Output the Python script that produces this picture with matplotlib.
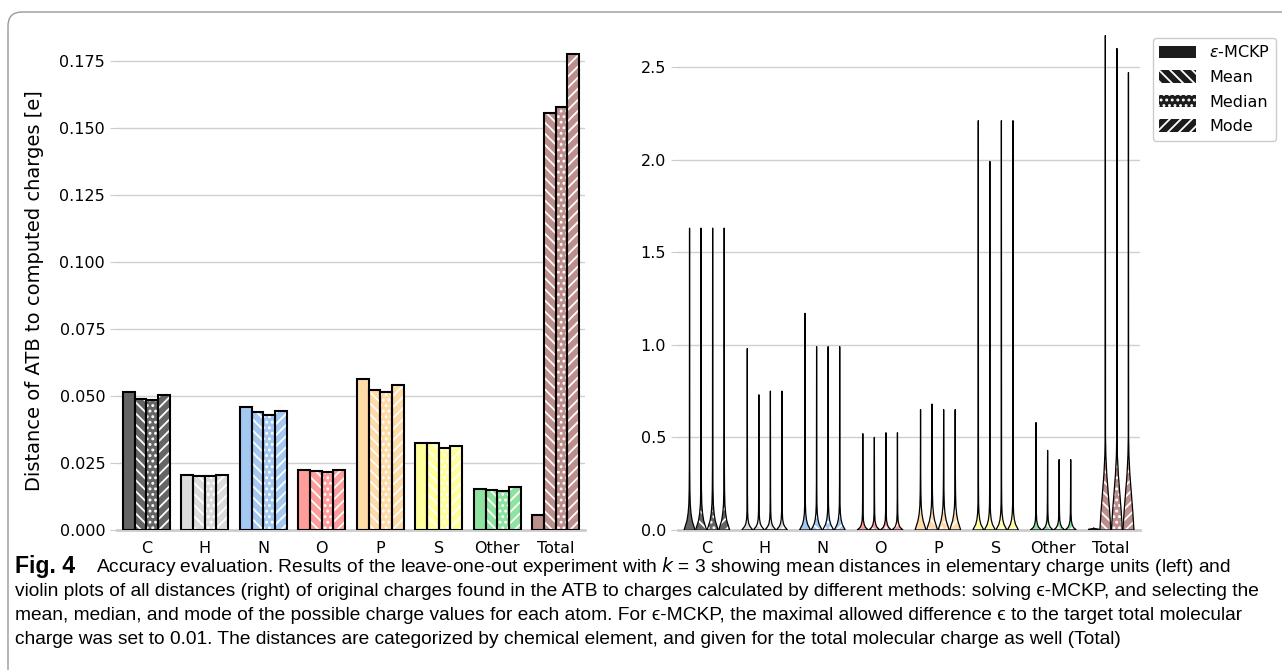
import matplotlib
matplotlib.use('Agg')
from matplotlib import pyplot as plt
from matplotlib.patches import Patch, FancyBboxPatch
from matplotlib.transforms import IdentityTransform

categories = ['C', 'H', 'N', 'O', 'P', 'S', 'Other', 'Total']
methods = [r'$\varepsilon$-MCKP', 'Mean', 'Median', 'Mode']
hatches = [None, '\\\\\\', '...', '///']
colors = ['#656565', '#dcdcdc', '#a3c8f2', '#ff9d9a', '#ffdba8', '#ffff9c', '#8fe3a0', '#bc8f8c']

# mean distances (left)
mean_eps = [0.0514, 0.0205, 0.0458, 0.0225, 0.0565, 0.0323, 0.0153, 0.0055]
mean_mean = [0.0489, 0.0203, 0.0439, 0.0222, 0.0521, 0.0325, 0.0149, 0.1557]
mean_median = [0.0485, 0.0200, 0.0428, 0.0218, 0.0516, 0.0306, 0.0146, 0.1580]
mean_mode = [0.0504, 0.0205, 0.0443, 0.0225, 0.0542, 0.0315, 0.0159, 0.1776]
means = [mean_eps, mean_mean, mean_median, mean_mode]

# violin tops = max distance (right)
max_eps = [1.63, 0.98, 1.17, 0.52, 0.65, 2.21, 0.58, 0.012]
max_mean = [1.63, 0.73, 0.99, 0.50, 0.68, 1.99, 0.43, 2.67]
max_median = [1.63, 0.75, 0.99, 0.525, 0.65, 2.21, 0.38, 2.60]
max_mode = [1.63, 0.75, 0.99, 0.525, 0.65, 2.21, 0.38, 2.47]
maxes = [max_eps, max_mean, max_median, max_mode]

# violin outline: heights and relative half widths
prof_w = [0.95, 0.75, 0.45, 0.25, 0.12, 0.06, 0.03]
prof_v = {
    'C': [0, 0.02, 0.05, 0.09, 0.14, 0.22, 0.35],
    'H': [0, 0.008, 0.02, 0.035, 0.06, 0.1, 0.2],
    'N': [0, 0.012, 0.03, 0.055, 0.09, 0.14, 0.25],
    'O': [0, 0.006, 0.015, 0.03, 0.05, 0.09, 0.18],
    'P': [0, 0.02, 0.05, 0.085, 0.13, 0.2, 0.3],
    'S': [0, 0.012, 0.03, 0.055, 0.09, 0.14, 0.25],
    'Other': [0, 0.006, 0.015, 0.03, 0.05, 0.09, 0.18],
}
total_v = [0, 0.1, 0.2, 0.3, 0.4, 0.5]
total_w = [0.95, 0.75, 0.5, 0.25, 0.09, 0.03]
total_eps_v = [0, 0.004, 0.008]
total_eps_w = [0.9, 0.9, 0.05]

caption = [
    'Accuracy evaluation. Results of the leave-one-out experiment with $k$ = 3 showing mean distances in elementary charge units (left) and',
    'violin plots of all distances (right) of original charges found in the ATB to charges calculated by different methods: solving \u03f5-MCKP, and selecting the',
    'mean, median, and mode of the possible charge values for each atom. For \u03f5-MCKP, the maximal allowed difference \u03f5 to the target total molecular',
    'charge was set to 0.01. The distances are categorized by chemical element, and given for the total molecular charge as well (Total)',
]

plt.rcParams['font.family'] = ['DejaVu Sans']
plt.rcParams['mathtext.fontset'] = 'dejavusans'
plt.rcParams['hatch.linewidth'] = 1.3

fig = plt.figure(figsize=(12.82, 6.70), dpi=100)
W, H = 1282, 670
ax1 = fig.add_axes([117 / W, (H - 530) / H, (585 - 117) / W, (530 - 15) / H])
ax2 = fig.add_axes([678 / W, (H - 530) / H, (1140 - 678) / W, (530 - 15) / H])


def style(ax):
    for s in ['left', 'right', 'top']:
        ax.spines[s].set_visible(False)
    ax.spines['bottom'].set_color('#cccccc')
    ax.spines['bottom'].set_linewidth(2)
    ax.grid(axis='y', color='#d0d0d0', lw=1)
    ax.set_axisbelow(True)
    ax.tick_params(axis='y', color='#cccccc', length=5, labelsize=11.5)
    ax.tick_params(axis='x', length=0, labelsize=11.5, pad=8)
    ax.set_xticks(range(len(categories)))
    ax.set_xticklabels(categories)
    ax.set_xlim(-0.5, len(categories) - 0.5)


# left: bars
for j in range(4):
    xs = [i + (j - 1.5) * 0.2 for i in range(len(categories))]
    if hatches[j]:
        ax1.bar(xs, means[j], width=0.2, color=colors, edgecolor='white', hatch=hatches[j], linewidth=0, zorder=2)
    else:
        ax1.bar(xs, means[j], width=0.2, color=colors, linewidth=0, zorder=2)
    ax1.bar(xs, means[j], width=0.2, fill=False, edgecolor='black', linewidth=1.5, zorder=3)
style(ax1)
ax1.set_ylim(0, 515 / 2680)
ax1.set_yticks([0, 0.025, 0.05, 0.075, 0.1, 0.125, 0.15, 0.175])
ax1.set_yticklabels(['0.000', '0.025', '0.050', '0.075', '0.100', '0.125', '0.150', '0.175'])
ax1.set_ylabel('Distance of ATB to computed charges [e]', fontsize=14)
ax1.yaxis.set_label_coords(-0.157, 0.465)

# right: violins
hw = 0.1
for i, cat in enumerate(categories):
    for j in range(4):
        cx = i + (j - 1.5) * 0.2
        if cat == 'Total':
            if j == 0:
                v, w = total_eps_v, total_eps_w
            else:
                v, w = total_v, total_w
        else:
            v, w = prof_v[cat], prof_w
        top = maxes[j][i]
        vv = [y for y in v if y < top] + [top]
        ww = w[:len(vv) - 1] + [0.0]
        left = [cx - k * hw for k in ww]
        right = [cx + k * hw for k in ww]
        if hatches[j]:
            ax2.fill_betweenx(vv, left, right, facecolor=colors[i], edgecolor='white', hatch=hatches[j], linewidth=0, zorder=2)
        else:
            ax2.fill_betweenx(vv, left, right, facecolor=colors[i], linewidth=0, zorder=2)
        ax2.fill_betweenx(vv, left, right, facecolor='none', edgecolor='black', linewidth=0.9, zorder=3)
style(ax2)
ax2.set_ylim(0, 515 / 185.2)
ax2.set_yticks([0, 0.5, 1.0, 1.5, 2.0, 2.5])

handles = [Patch(facecolor='#1c1c1c', edgecolor='white', hatch=h, linewidth=0) for h in hatches]
leg = fig.legend(handles, methods, loc='upper left', bbox_to_anchor=(1153 / W, 1 - 38 / H),
                 bbox_transform=fig.transFigure, fontsize=11.5, borderaxespad=0,
                 handlelength=2.3, handleheight=0.8, labelspacing=0.6, fancybox=True, framealpha=1)
leg.get_frame().set_edgecolor('#cccccc')

# caption, font size fitted to the width of the reference lines
cap_font = ['Liberation Sans', 'DejaVu Sans']
ys = [567, 591, 615, 639]
figtxt = fig.text(15 / W, 1 - 567 / H, 'Fig. 4', fontsize=13, fontweight='bold', va='center', family=cap_font)
lines = []
for k, line in enumerate(caption):
    x0 = 96 if k == 0 else 15
    lines.append(fig.text(x0 / W, 1 - ys[k] / H, line, fontsize=13, va='center', family=cap_font))
r = fig.canvas.get_renderer()
wid = lines[1].get_window_extent(r).width
fs = 13 * (1262 - 15) / wid
for t in lines:
    t.set_fontsize(fs)
figtxt.set_fontsize(fs * 1.2)

fig.add_artist(FancyBboxPatch((8, -100), 1400, 758, boxstyle='round,pad=0,rounding_size=14',
                              transform=IdentityTransform(), facecolor='none', edgecolor='#999999', lw=1))

fig.savefig('out.png', dpi=100)
